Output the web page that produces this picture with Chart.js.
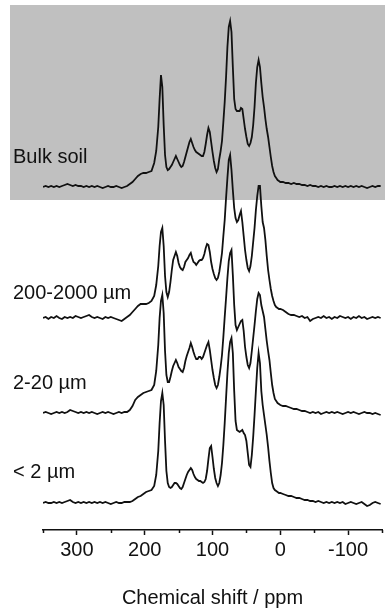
<!DOCTYPE html>
<html>
<head>
<meta charset="utf-8">
<title>Chemical shift</title>
<script src="https://cdn.jsdelivr.net/npm/chart.js@4.4.1/dist/chart.umd.min.js"></script>
<style>
  html, body { margin: 0; padding: 0; background: #ffffff; }
  #wrap { width: 385px; height: 613px; position: relative; }
</style>
</head>
<body>
<div id="wrap"><canvas id="nmrChart"></canvas></div>
<script>
// Chemical shift grid (ppm), shared by the four spectra
const ppmAxis = [
  350, 346, 342, 338, 334, 330, 326, 322, 318, 314,
  310, 306, 302, 298, 294, 290, 286, 282, 278, 274,
  270, 266, 262, 258, 254, 250, 246, 242, 238, 234,
  230, 226, 222, 218, 214, 210, 206, 202, 198, 194,
  190, 186, 183, 180,
  178, 176, 174, 172, 170, 168, 166, 164, 162, 160,
  158, 156, 154, 152, 150, 148, 146, 144, 142, 140,
  138, 136, 134, 132, 130, 128, 126, 124, 122, 120,
  118, 116, 114, 112, 110, 108, 106, 104, 102, 100,
  98, 96, 94, 92, 90, 88, 86, 84, 82, 80,
  78, 76, 74, 72, 70, 68, 66, 64, 62, 60,
  58, 56, 54, 52, 50, 48, 46, 44, 42, 40,
  38, 36, 34, 32, 30, 28, 26, 24, 22, 20,
  18, 16, 14, 12, 10, 8, 6, 4, 2, 0,
  -4, -8, -12, -16, -20, -24, -28, -32, -36, -40,
  -44, -48, -52, -56, -60, -64, -68, -72, -76, -80,
  -84, -88, -92, -96, -100, -104, -108, -112, -116, -120,
  -124, -128, -132, -136, -140, -144, -148
];

// Spectrum labels, top to bottom
const sampleNames = ['Bulk soil', '200-2000 µm', '2-20 µm', '< 2 µm'];

// Signal intensities (arbitrary units)
const bulkSoil = [
  0, 1, 0, 1, 0, 1, 0, 1, 2, 3,
  2, 1, 2, 1, 1, 0, 1, 0, 1, 0,
  1, 0, -1, 0, 1, 0, 0, 1, 0, -1,
  0, 1, 3, 5, 8, 11, 13, 14, 14, 15,
  16, 24, 36, 60,
  88, 112, 100, 62, 32, 20, 17, 18, 20, 22,
  25, 28, 31, 28, 25, 22, 20, 21, 25, 30,
  35, 40, 45, 48, 44, 40, 37, 35, 34, 33,
  32, 31, 31, 35, 43, 52, 59, 55, 45, 35,
  26, 19, 15, 18, 28, 36, 46, 65, 85, 110,
  140, 160, 166, 155, 120, 88, 78, 76, 76, 76,
  79, 78, 68, 58, 50, 43, 41, 44, 50, 62,
  80, 104, 120, 127, 120, 104, 90, 80, 68, 58,
  50, 40, 30, 21, 15, 11, 9, 7, 6, 5,
  5, 4, 4, 3, 4, 3, 3, 2, 2, 1,
  2, 1, 1, 0, 1, 0, 1, 0, 0, 1,
  0, 1, 0, 1, 0, 1, 0, 1, 0, 1,
  0, -1, 0, 1, 0, 1, 1
];

const coarse = [
  0, 1, -1, 1, 0, 2, 0, -1, 1, 0,
  1, 0, 2, 1, 0, 1, 2, 3, 1, 0,
  1, 0, -1, 1, 0, 1, 0, -1, -2, -3,
  -1, 1, 3, 6, 9, 12, 14, 14, 14, 15,
  17, 22, 33, 52,
  72, 86, 90, 72, 42, 26, 21, 26, 36, 48,
  58, 62, 66, 62, 55, 51, 49, 48, 51, 56,
  58, 60, 63, 65, 60, 56, 55, 53, 55, 57,
  58, 58, 60, 64, 70, 74, 73, 66, 56, 49,
  44, 40, 38, 40, 46, 55, 65, 82, 98, 120,
  140, 158, 163, 148, 128, 110, 100, 96, 98, 103,
  107, 96, 82, 68, 58, 50, 47, 52, 62, 76,
  90, 108, 122, 132, 132, 112, 96, 90, 78, 62,
  48, 38, 29, 22, 17, 13, 11, 10, 9, 9,
  8, 6, 4, 3, 3, 2, 1, 2, 0, 1,
  -3, -1, 0, 1, 0, 2, 0, 1, -1, 1,
  0, 2, 1, 0, 1, -1, 1, 0, 2, 0,
  1, -1, 0, 1, 0, 1, 0
];

const silt = [
  0, 1, 0, -1, 0, 1, 0, 1, 0, 1,
  3, 2, 1, 0, 1, 0, 1, 0, 1, 0,
  -1, 0, 1, 0, 1, 0, -1, 0, 1, 0,
  1, 1, 3, 7, 13, 16, 18, 20, 21, 22,
  23, 28, 42, 68,
  95, 112, 118, 100, 62, 38, 31, 31, 36, 42,
  47, 50, 53, 50, 46, 44, 42, 41, 45, 52,
  57, 61, 65, 70, 66, 61, 57, 54, 54, 56,
  56, 54, 56, 60, 64, 68, 71, 63, 53, 43,
  35, 28, 25, 28, 36, 46, 58, 76, 96, 115,
  135, 152, 160, 163, 138, 108, 88, 83, 86, 89,
  92, 93, 82, 66, 56, 48, 45, 50, 62, 75,
  88, 102, 114, 120, 118, 108, 102, 96, 84, 72,
  62, 53, 40, 28, 20, 14, 12, 10, 9, 8,
  7, 7, 6, 5, 4, 4, 3, 2, 2, 1,
  0, 1, 0, 1, -1, 0, 1, 0, 1, 0,
  1, 0, -1, 0, 1, 0, 1, 0, -1, 0,
  1, 0, 0, -1, 0, -1, -2
];

const clay = [
  0, 1, 0, 0, 1, 0, 1, 0, 1, 2,
  3, 1, 0, 1, 0, 1, 0, 1, 0, 1,
  0, 1, 0, 1, 0, -1, 0, 1, 0, 0,
  1, 1, 1, 2, 4, 6, 7, 9, 11, 12,
  13, 17, 28, 52,
  80, 102, 110, 98, 62, 32, 20, 16, 15, 16,
  18, 20, 20, 19, 17, 15, 14, 16, 20, 24,
  28, 31, 33, 35, 33, 29, 26, 24, 23, 22,
  22, 21, 20, 21, 24, 32, 44, 55, 57, 46,
  34, 25, 20, 17, 20, 28, 40, 58, 80, 105,
  130, 150, 161, 165, 150, 112, 82, 73, 72, 71,
  72, 73, 70, 68, 62, 50, 38, 36, 48, 66,
  88, 112, 135, 150, 140, 112, 98, 88, 78, 68,
  56, 42, 30, 20, 15, 13, 12, 11, 10, 10,
  9, 8, 7, 7, 6, 5, 5, 4, 3, 3,
  2, 2, 1, 2, 1, 0, 1, 0, 1, 0,
  1, 0, 1, -1, 0, 1, 0, -1, 0, 1,
  -1, -3, -2, 0, 1, 0, -1
];

// Vertical stacking offset of each trace
const stackOffsets = [343, 212, 117, 27];

// X axis range and tick spacing (ppm)
const ppmMax = 350;
const ppmMin = -150;
const tickStep = 50;

document.addEventListener('DOMContentLoaded', function () {
  const fontFamily = '"Liberation Sans", Arial, Helvetica, sans-serif';
  const ink = '#111111';
  const spectra = [bulkSoil, coarse, silt, clay];

  // Grey panel behind the bulk soil spectrum
  const panelPlugin = {
    id: 'panel',
    beforeDatasetsDraw(chart) {
      const ctx = chart.ctx;
      ctx.save();
      ctx.fillStyle = '#c0c0c0';
      ctx.fillRect(10, 5, chart.width - 10, 195);
      ctx.restore();
    }
  };

  // Sample names to the left of each spectrum + short minor ticks
  const labelPlugin = {
    id: 'sampleLabels',
    afterDatasetsDraw(chart) {
      const ctx = chart.ctx;
      const y = chart.scales.y;
      const lift = [24, 19, 24, 25];
      ctx.save();
      ctx.fillStyle = ink;
      ctx.font = '20px ' + fontFamily;
      ctx.textAlign = 'left';
      ctx.textBaseline = 'alphabetic';
      sampleNames.forEach((name, i) => {
        ctx.fillText(name, 13, y.getPixelForValue(stackOffsets[i]) - lift[i]);
      });
      ctx.restore();
    },
    afterDraw(chart) {
      const ctx = chart.ctx;
      const x = chart.scales.x;
      const bottom = chart.chartArea.bottom;
      ctx.save();
      ctx.strokeStyle = ink;
      ctx.lineWidth = 1.5;
      x.ticks.forEach(t => {
        if (t.value % 100 !== 0) {
          const px = Math.round(x.getPixelForValue(t.value)) + 0.5;
          ctx.beginPath();
          ctx.moveTo(px, bottom);
          ctx.lineTo(px, bottom + 3);
          ctx.stroke();
        }
      });
      ctx.restore();
    }
  };

  new Chart(document.getElementById('nmrChart'), {
    type: 'line',
    data: {
      datasets: spectra.map((values, i) => ({
        label: sampleNames[i],
        data: ppmAxis.map((p, k) => ({ x: p, y: stackOffsets[i] + values[k] })),
        borderColor: ink,
        borderWidth: 1.8,
        pointRadius: 0,
        tension: 0,
        fill: false
      }))
    },
    options: {
      responsive: true,
      maintainAspectRatio: false,
      animation: false,
      layout: { padding: { left: 43, right: 2, top: 0, bottom: 0 } },
      plugins: {
        legend: { display: false },
        tooltip: { enabled: false }
      },
      scales: {
        x: {
          type: 'linear',
          reverse: true,
          min: ppmMin,
          max: ppmMax,
          afterFit(scale) { scale.height = 83; },
          border: { display: true, color: ink, width: 1.5 },
          grid: {
            drawOnChartArea: false,
            drawTicks: true,
            tickLength: 5,
            tickWidth: 1.5,
            tickColor: c => (c.tick && c.tick.value % 100 === 0 ? ink : 'rgba(0,0,0,0)')
          },
          ticks: {
            stepSize: tickStep,
            autoSkip: false,
            maxRotation: 0,
            padding: 3,
            color: ink,
            font: { size: 20, family: fontFamily },
            callback: v => (v % 100 === 0 ? String(v) : '')
          },
          title: {
            display: true,
            text: 'Chemical shift / ppm',
            color: ink,
            font: { size: 20, family: fontFamily },
            padding: { top: 0, bottom: 3 }
          }
        },
        y: {
          display: false,
          min: 0,
          max: 530
        }
      }
    },
    plugins: [panelPlugin, labelPlugin]
  });
});
</script>
</body>
</html>
